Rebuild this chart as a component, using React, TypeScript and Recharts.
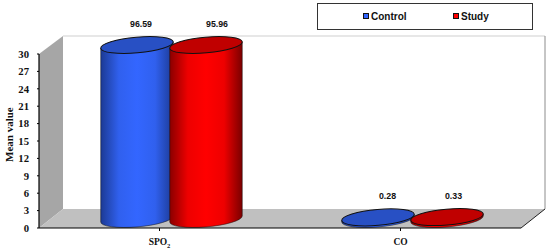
import { BarChart, Bar, XAxis, YAxis, CartesianGrid, Customized, LabelList, Legend } from 'recharts';

const CATEGORIES = ['SPO2', 'CO'];
const CONTROL = [96.59, 0.28];
const STUDY = [95.96, 0.33];
const Y_TICKS = [0, 3, 6, 9, 12, 15, 18, 21, 24, 27, 30];
const AXIS_MAX = 30;

const chartData = CATEGORIES.map((name, i) => ({ name, control: CONTROL[i], study: STUDY[i] }));

const WIDTH = 548;
const HEIGHT = 252;
const MARGIN = { top: 54, right: 27, bottom: 0, left: 0 };
const Y_AXIS_W = 39;
const X_AXIS_H = 24;
// 3D look, depth of the box and of the cylinders inside it
const DEPTH_X = 24;
const DEPTH_Y = 18;
const SERIF = '"Liberation Serif", "Times New Roman", serif';
const SANS = '"Liberation Sans", Arial, sans-serif';

const left = Y_AXIS_W;
const right = WIDTH - MARGIN.right;
const top = MARGIN.top;
const bottom = HEIGHT - X_AXIS_H;

const Box3D = () => (
  <g>
    <polygon
      points={`${left},${top} ${left + DEPTH_X},${top - DEPTH_Y} ${left + DEPTH_X},${bottom - DEPTH_Y - 1} ${left},${bottom}`}
      fill="#a6a6a6"
    />
    <polygon
      points={`${left},${bottom} ${left + DEPTH_X},${bottom - DEPTH_Y - 1} ${right + DEPTH_X},${bottom - DEPTH_Y - 1} ${right},${bottom}`}
      fill="#c0c0c0"
    />
    <line x1={left + DEPTH_X} y1={top - DEPTH_Y} x2={right + DEPTH_X} y2={top - DEPTH_Y} stroke="#cfcfcf" strokeWidth={1} />
    <line x1={right + DEPTH_X} y1={top - DEPTH_Y} x2={right + DEPTH_X} y2={bottom - DEPTH_Y - 1} stroke="#8c8c8c" strokeWidth={1} />
    <line x1={right} y1={bottom} x2={right + DEPTH_X} y2={bottom - DEPTH_Y - 1} stroke="#222" strokeWidth={1} />
  </g>
);

const WallLine = ({ x1, y1 }: any) =>
  y1 < bottom - 1 ? (
    <line x1={x1} y1={y1} x2={x1 + DEPTH_X} y2={y1 - DEPTH_Y} stroke="#fff" strokeWidth={1} />
  ) : (
    <g />
  );

const makeCylinder = (fillId: string, topColor: string) => (props: any) => {
  const { x, y, width, height } = props;
  const a = width / 2 + 0.4;
  const b = 7.9;
  const deg = 5;
  const rad = (deg * Math.PI) / 180;
  const hx = Math.sqrt(a * a * Math.cos(rad) ** 2 + b * b * Math.sin(rad) ** 2);
  const off = ((a * a - b * b) * Math.sin(rad) * Math.cos(rad)) / hx;
  const cx = x + width / 2 + DEPTH_X / 2;
  const cyTop = y - DEPTH_Y / 2;
  const cyBottom = y + height - DEPTH_Y / 2;
  const body = `M${cx - hx},${cyTop + off} L${cx - hx},${cyBottom + off} A${a},${b} ${-deg} 0 0 ${cx + hx},${cyBottom - off} L${cx + hx},${cyTop - off} Z`;
  return (
    <g>
      <path d={body} fill={`url(#${fillId})`} stroke="#111" strokeWidth={0.5} />
      <ellipse cx={cx} cy={cyTop} rx={a} ry={b} fill={topColor} stroke="#111" strokeWidth={1} transform={`rotate(${-deg} ${cx} ${cyTop})`} />
    </g>
  );
};

const makeValueLabel = (values: number[], nudge: number[]) => (props: any) => {
  const { x, y, width, index } = props;
  return (
    <text
      x={x + width / 2 + DEPTH_X / 2 + nudge[index]}
      y={y - DEPTH_Y / 2 - 21}
      textAnchor="middle"
      dominantBaseline="central"
      fontFamily={SANS}
      fontSize={8.8}
      fontWeight="bold"
      fill="#111"
    >
      {values[index].toFixed(2)}
    </text>
  );
};

const CategoryTick = ({ x, y, payload }: any) => {
  const m = /^([A-Z]+)(\d)$/.exec(payload.value);
  return (
    <text x={x} y={y + 12} textAnchor="middle" fontFamily={SERIF} fontSize={9.5} fontWeight="bold" fill="#111">
      {m ? (
        <>
          {m[1]}
          <tspan fontSize={6.5} dy={2.5}>
            {m[2]}
          </tspan>
        </>
      ) : (
        payload.value
      )}
    </text>
  );
};

const LegendBox = () => (
  <div
    style={{
      position: 'relative',
      width: 216,
      height: 27,
      boxSizing: 'border-box',
      border: '1.8px solid #333',
      background: '#fff',
      fontFamily: SANS,
      fontWeight: 'bold',
      fontSize: 10,
      color: '#111',
    }}
  >
    {[
      { label: 'Control', color: '#3366ff', at: 45 },
      { label: 'Study', color: '#ff0000', at: 135 },
    ].map((item) => (
      <div key={item.label} style={{ position: 'absolute', left: item.at, top: 5.5, display: 'flex', alignItems: 'center', lineHeight: '13px' }}>
        <span style={{ width: 4, height: 4, border: '1.5px solid #111', background: item.color, marginRight: 2 }} />
        {item.label}
      </div>
    ))}
  </div>
);

export default function App() {
  return (
    <div style={{ position: 'absolute', left: 0, top: 0, width: WIDTH, height: HEIGHT, background: '#fff' }}>
      <BarChart width={WIDTH} height={HEIGHT} data={chartData} margin={MARGIN} barSize={72} barGap={-3} barCategoryGap={0}>
        <defs>
          <linearGradient id="blueBody" x1="0" y1="0" x2="1" y2="0">
            <stop offset="0" stopColor="#1c3a94" />
            <stop offset="0.25" stopColor="#3060ee" />
            <stop offset="0.5" stopColor="#3366ff" />
            <stop offset="0.75" stopColor="#3060ee" />
            <stop offset="1" stopColor="#1c3a94" />
          </linearGradient>
          <linearGradient id="redBody" x1="0" y1="0" x2="1" y2="0">
            <stop offset="0" stopColor="#8a0000" />
            <stop offset="0.25" stopColor="#ee0000" />
            <stop offset="0.5" stopColor="#ff0000" />
            <stop offset="0.75" stopColor="#ee0000" />
            <stop offset="1" stopColor="#7a0000" />
          </linearGradient>
        </defs>
        <Customized component={Box3D} />
        <CartesianGrid vertical={false} horizontal={(p: any) => <WallLine key={p.key} {...p} />} />
        <XAxis
          dataKey="name"
          height={X_AXIS_H}
          tick={<CategoryTick />}
          tickSize={3}
          axisLine={{ stroke: '#000', strokeWidth: 1.2 }}
          tickLine={{ stroke: '#000', strokeWidth: 1 }}
          interval={0}
        />
        <YAxis
          width={Y_AXIS_W}
          domain={[0, AXIS_MAX]}
          ticks={Y_TICKS}
          interval={0}
          tickSize={2}
          tickMargin={8}
          axisLine={{ stroke: '#000', strokeWidth: 1.2 }}
          tickLine={{ stroke: '#000', strokeWidth: 1 }}
          tick={{ fontFamily: SERIF, fontSize: 10.7, fontWeight: 'bold', fill: '#111' }}
          label={{
            value: 'Mean value',
            angle: -90,
            position: 'insideLeft',
            dx: 4,
            dy: 21,
            style: { fontFamily: SERIF, fontSize: 11, fontWeight: 'bold', fill: '#111' },
          }}
        />
        {/* the columns run past the axis, they stop at its top as in the picture */}
        <Bar
          dataKey={(d: any) => Math.min(d.control, AXIS_MAX)}
          name="Control"
          shape={makeCylinder('blueBody', '#2850c4')}
          isAnimationActive={false}
        >
          <LabelList content={makeValueLabel(CONTROL, [4, 9.5])} />
        </Bar>
        <Bar
          dataKey={(d: any) => Math.min(d.study, AXIS_MAX)}
          name="Study"
          shape={makeCylinder('redBody', '#c00000')}
          isAnimationActive={false}
        >
          <LabelList content={makeValueLabel(STUDY, [11, 6.5])} />
        </Bar>
        {/* vertical + center + middle keeps the legend from taking room off the plot */}
        <Legend
          layout="vertical"
          align="center"
          verticalAlign="middle"
          content={<LegendBox />}
          wrapperStyle={{ position: 'absolute', left: 317, top: 3, width: 216, height: 27 }}
        />
      </BarChart>
    </div>
  );
}
